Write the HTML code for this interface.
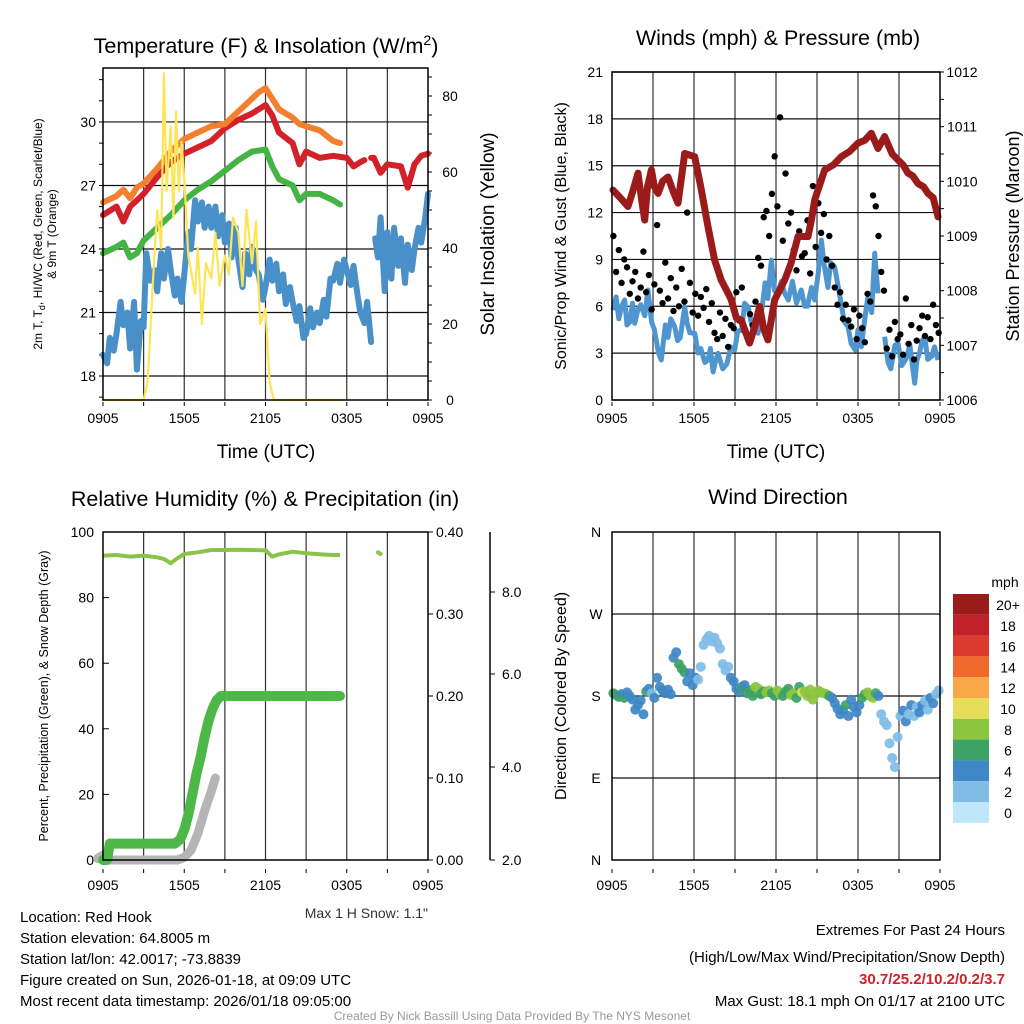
<!DOCTYPE html>
<html><head><meta charset="utf-8"><style>
html,body{margin:0;padding:0;background:#fff;}
svg{display:block;font-family:"Liberation Sans",sans-serif;}
</style></head><body>
<svg id="chart" width="1024" height="1024" viewBox="0 0 1024 1024" xmlns="http://www.w3.org/2000/svg">
<g id="p1"></g>
<g id="p2"></g>
<g id="p3"></g>
<g id="p4"></g>
<g font-size="21.5" text-anchor="middle">
<text x="266" y="53">Temperature (F) &amp; Insolation (W/m<tspan dy="-8" font-size="14">2</tspan><tspan dy="8">)</tspan></text>
<text x="778" y="45">Winds (mph) &amp; Pressure (mb)</text>
<text x="265" y="506">Relative Humidity (%) &amp; Precipitation (in)</text>
<text x="778" y="504">Wind Direction</text>
</g>
<g font-size="15">
<text x="20" y="922">Location: Red Hook</text>
<text x="20" y="943">Station elevation: 64.8005 m</text>
<text x="20" y="964">Station lat/lon: 42.0017; -73.8839</text>
<text x="20" y="985">Figure created on Sun, 2026-01-18, at 09:09 UTC</text>
<text x="20" y="1006">Most recent data timestamp: 2026/01/18 09:05:00</text>
<g text-anchor="end">
<text x="1005" y="935">Extremes For Past 24 Hours</text>
<text x="1005" y="962">(High/Low/Max Wind/Precipitation/Snow Depth)</text>
<text x="1005" y="984" fill="#d42028" font-weight="bold">30.7/25.2/10.2/0.2/3.7</text>
<text x="1005" y="1006">Max Gust: 18.1 mph On 01/17 at 2100 UTC</text>
<text x="428" y="918" font-size="14" fill="#333">Max 1 H Snow: 1.1"</text>
</g>
<text x="512" y="1020" font-size="12" fill="#999" text-anchor="middle">Created By Nick Bassill Using Data Provided By The NYS Mesonet</text>
</g>
</svg>
<script>
// ---- Data ----
const xTickLabels = ["0905","1505","2105","0305","0905"];
const tempTimes = [0,1,1.5,2,2.5,3,4,5,6,7,8,9,10,11,11.5,12,12.5,13,14,14.5,15,16,17,17.5];
const orangeT = [26.2,26.5,26.8,26.4,26.9,27.1,27.8,28.6,29.2,29.5,29.8,29.9,30.5,31.1,31.4,31.6,31.1,30.6,30.2,29.9,29.8,29.6,29.1,29.0];
const redTimes = [0,1,1.5,2,2.5,3,4,5,6,7,8,9,10,11,12,12.5,13,14,14.5,15,16,17,18,18.5,19,19.3,null,19.8,20,20.5,21,22,22.5,23,23.5,24];
const redT = [25.6,26.0,25.3,26.0,26.3,26.6,27.4,28.1,28.5,28.8,29.1,29.7,30.1,30.4,30.8,30.3,29.5,29.0,28.0,28.6,28.3,28.4,28.3,27.9,28.1,28.2,null,28.3,28.3,27.6,28.0,27.9,26.9,28.0,28.4,28.5];
const greenTimes = [0,1,1.5,2,2.5,3,4,5,6,7,8,9,10,11,12,12.5,13,14,14.5,15,16,17,17.5];
const greenT = [23.8,24.1,24.3,23.6,23.8,24.4,25.0,25.6,26.3,26.8,27.2,27.7,28.2,28.6,28.7,27.9,27.3,27.0,26.3,26.6,26.6,26.3,26.1];
const blueTimes = [0,0.3,0.5,0.8,1,1.3,1.5,1.8,2,2.3,2.5,2.8,3,3.2,3.5,3.8,4,4.3,4.5,4.8,5,5.3,5.5,5.8,6,6.3,6.5,6.8,7,7.3,7.5,7.8,8,8.3,8.5,8.8,9,9.3,9.5,9.8,10,10.3,10.5,10.8,11,11.3,11.5,11.8,12,12.3,12.5,12.8,13,13.3,13.5,13.8,14,14.3,14.5,14.8,15,15.3,15.5,15.8,16,16.3,16.5,16.8,17,17.3,17.5,17.8,18,18.3,18.5,18.8,19,19.3,19.5,19.8,null,20.1,20.3,20.5,20.8,21,21.3,21.5,21.8,22,22.3,22.5,22.8,23,23.3,23.5,23.8,24];
const blueT = [19.0,18.6,19.8,19.2,20.0,21.5,20.4,21.0,19.3,21.5,18.3,20.6,20.3,23.8,22.5,23.0,22.0,23.8,22.6,24.0,23.0,21.8,22.6,21.5,22.8,24.8,24.0,26.3,25.3,26.2,25.0,26.0,25.0,26.0,24.6,25.6,24.3,25.2,23.6,25.0,23.5,22.2,23.8,22.8,24.1,23.0,22.8,21.6,22.2,23.5,22.5,23.3,22.0,22.8,21.4,22.2,21.5,20.6,21.3,19.8,20.0,21.2,20.3,21.0,20.5,21.6,20.8,22.6,22.5,23.3,22.4,23.5,23.0,22.3,23.2,21.8,21.0,20.5,21.5,19.6,null,24.5,23.6,25.5,22.0,24.8,22.6,25.0,23.2,24.5,22.4,24.2,23.0,24.0,25.0,24.3,25.5,26.6];
const solarTimes = [0,3,3.3,3.7,4,4.3,4.5,4.7,5,5.2,5.4,5.6,5.8,6,6.3,6.5,6.8,7,7.3,7.6,8,8.3,8.6,9,9.3,9.6,10,10.3,10.6,11,11.3,11.6,12,12.3,12.6,17.8];
const solarV = [0,0,5,32,50,40,86,55,72,48,76,55,68,58,38,34,28,40,20,36,32,44,30,38,33,48,44,30,50,36,47,20,24,5,0,0];
const presTimes = [0.07,0.6,1.17,1.5,1.9,2.2,2.39,2.6,2.88,3.1,3.37,3.7,4.1,4.5,4.83,5.32,6.05,6.54,7.0,7.51,8.0,8.4,8.73,9.1,9.46,10.07,10.4,10.8,11.1,11.41,11.9,12.63,13.1,13.61,14.34,14.6,14.83,15.56,16.2,16.78,17.4,18.0,18.5,18.97,19.46,19.95,20.5,20.93,21.3,21.66,22.0,22.39,22.8,23.12,23.5,23.85];
const presV = [1009.84,1009.7,1009.54,1009.8,1010.15,1009.6,1009.29,1009.9,1010.21,1009.9,1009.78,1010.0,1010.08,1009.8,1009.6,1010.51,1010.45,1009.84,1009.2,1008.56,1008.19,1008.0,1007.83,1007.5,1007.46,1007.04,1007.3,1007.71,1007.3,1007.1,1007.83,1008.19,1008.5,1008.99,1008.99,1009.3,1009.66,1010.21,1010.3,1010.45,1010.55,1010.7,1010.75,1010.88,1010.6,1010.82,1010.5,1010.39,1010.3,1010.15,1010.1,1009.96,1009.9,1009.78,1009.7,1009.35];
const windTimes = [0.07,0.3,0.5,0.7,0.93,1.1,1.3,1.5,1.66,1.9,2.1,2.4,2.63,2.9,3.1,3.4,3.61,3.9,4.1,4.3,4.59,4.8,5.0,5.32,5.5,5.7,6.05,6.3,6.5,6.8,7.02,7.2,7.4,7.6,7.76,8.1,8.4,8.7,8.98,9.2,9.5,9.7,9.95,10.3,10.5,10.68,11.0,11.2,11.4,11.66,11.9,12.1,12.4,12.63,12.9,13.2,13.5,13.85,14.1,14.3,14.6,14.83,15.1,15.32,15.5,15.8,16.0,16.29,16.6,16.8,17.0,17.27,17.5,17.8,18.0,18.24,18.5,18.7,19.0,19.22,19.46,null,19.95,20.2,20.4,20.7,20.93,21.2,21.5,21.8,22.15,22.3,22.5,22.7,22.88,23.1,23.4,23.6,23.85];
const windV = [5.76,6.6,5.2,6.0,6.4,4.8,5.0,6.2,4.91,5.8,6.1,5.4,7.04,5.0,4.5,3.0,2.56,4.8,4.0,5.2,4.69,3.8,4.0,5.97,4.9,4.3,4.27,3.0,3.3,2.4,2.56,3.3,1.8,2.6,2.99,2.0,2.3,3.4,3.2,4.4,4.5,6.2,5.97,4.5,4.6,4.27,6.0,7.5,6.5,8.96,7.0,6.8,7.6,6.83,6.4,7.6,6.2,7.04,6.0,6.0,7.2,6.4,8.2,10.24,8.8,7.2,8.8,8.53,7.0,6.0,5.0,4.69,3.6,3.2,4.5,3.41,5.2,6.5,5.6,9.39,6.83,null,4.05,2.4,2.0,3.5,3.63,2.2,2.6,3.5,1.07,2.5,3.0,3.8,4.05,2.6,2.8,3.4,2.56];
const gustV = [10.5,8.2,9.6,7.5,9.0, 8.5,6.8,7.6,8.2,6.5, 7.2,9.5,6.9,8.0,5.8, 7.4,11.2,7.0,6.2,8.8, 6.5,7.8,5.7,7.2,6.0, 8.4,6.3,12.0,7.5,5.6, 6.8,5.4,6.6,5.9,7.1, 5.0,6.2,4.3,3.9,5.6, 4.1,5.2,3.4,4.8,4.6, 6.9,5.1,7.2,4.4,4.0, 5.5,4.8,6.3,9.1,8.6, 11.7,12.1,10.5,13.2,15.6, 12.4,18.1,10.2,14.5,11.3, 12.0,9.6,8.3,10.8,9.2, 9.4,11.5,8.1,13.7,9.8, 12.6,10.7,11.9,9.0,10.5, 8.6,7.2,6.1,6.9,5.2, 6.1,5.1,4.7,5.8,3.9, 5.4,4.6,3.7,6.8,6.3, 13.1,12.4,10.5,8.2,7.0, 3.3,4.5,2.8,5.0,3.9, 4.2,2.9,6.5,3.6,4.8, 2.6,3.8,4.6,5.4,4.1, 5.3,3.9,6.1,4.8,4.3];
const rhTimes = [0,1,2,3,4,4.5,5,5.5,6,7,8,9,10,11,12,12.5,13,14,15,16,17,17.5];
const rhV = [92.8,93.0,92.5,92.8,92.3,91.8,90.5,92.0,93.3,93.8,94.5,94.5,94.6,94.5,94.4,92.5,93.2,94.0,93.5,93.2,93.0,93.0];
const precipTimes = [0,0.3,0.5,5.3,5.7,6.0,6.3,6.6,6.9,7.2,7.5,7.8,8.1,8.4,8.7,9.0,17.5];
const precipV = [0.0,0.0,0.02,0.02,0.025,0.037,0.055,0.08,0.105,0.125,0.15,0.17,0.185,0.195,0.2,0.2,0.2];
const snowTimes = [-0.4,0,0.3,5.5,6.0,6.5,7.0,7.5,8.0,8.3];
const snowV = [0.5,1.5,0,0,0.8,3,8,15,21,25];
const dirV = [183,181,179,182,178,184,180,176,165,170, 175,160,185,188,183,178,200,190,186,183, 187,182,222,228,215,210,206,196,205,192, 200,198,212,236,242,246,240,244,238,232, 215,208,212,200,196,188,184,190,192,183, 186,180,190,188,182,185,184,186,183,180, 186,182,180,185,188,181,183,178,190,184, 185,180,187,176,182,186,184,183,182,180, 178,172,166,160,164,170,158,176,168,162, 170,178,182,184,180,178,183,180,160,152, 148,128,112,102,135,158,164,152,160,170, 158,168,162,170,175,165,178,172,182,186];
const spdV = [6,6,7,5,6,4,5,4,4,5, 4,4,7,5,2,4,4,4,4,5, 4,4,4,5,7,7,6,4,4,4, 4,3,3,2,2,2,2,2,2,3, 2,2,3,4,4,5,4,6,4,6, 6,7,8,8,7,6,9,8,7,6, 8,8,7,6,7,9,8,6,7,10, 9,8,8,9,9,8,8,9,8,6, 5,4,5,4,5,6,5,4,4,5, 4,6,7,8,8,9,6,4,3,3, 2,3,3,2,2,3,4,5,3,4, 3,3,4,5,3,3,4,4,3,3];
const speedLabels = ["20+","18","16","14","12","10","8","6","4","2","0"];
const speedColors = ["#9b1b1b","#c0202a","#dc3a2c","#ef6a2c","#f8a848","#e6de58","#8cc63f","#3da266","#3f87c6","#7fbde6","#bfe6fa"];

// ---- helpers ----
const NS="http://www.w3.org/2000/svg";
function mk(parent,tag,attrs,text){const e=document.createElementNS(NS,tag);for(const k in attrs)e.setAttribute(k,attrs[k]);if(text!==undefined)e.textContent=text;parent.appendChild(e);return e;}
function pathD(ts,vs,xf,yf){let d="",pen=false;for(let i=0;i<ts.length;i++){if(ts[i]===null||vs[i]===null){pen=false;continue;}d+=(pen?"L":"M")+xf(ts[i]).toFixed(1)+","+yf(vs[i]).toFixed(1);pen=true;}return d;}
function frame(g,x0,x1,y0,y1){
  mk(g,"rect",{x:x0,y:y0,width:x1-x0,height:y1-y0,fill:"none",stroke:"#000","stroke-width":1.5});
}
function vgrid(g,xf,y0,y1){for(let h=3;h<24;h+=3){const l=mk(g,"line",{x1:xf(h),x2:xf(h),y1:y0,y2:y1,stroke:"#333","stroke-width":1.2});}}
function xticks(g,xf,y){for(let i=0;i<5;i++){const t=mk(g,"text",{x:xf(i*6),y:y,"font-size":14,"text-anchor":"middle"},xTickLabels[i]);}
  for(let h=0;h<=24;h+=3){mk(g,"line",{x1:xf(h),x2:xf(h),y1:y-21,y2:y-17,stroke:"#000"});}}

// ---- Panel 1 ----
(function(){
 const g=document.getElementById("p1");
 const X0=103,X1=428,Y0=68,Y1=400;
 const x=t=>X0+t/24*(X1-X0);
 const y=v=>376-(v-18)*21.17;
 const ys=v=>400-v*3.8;
 vgrid(g,x,Y0,Y1);
 [18,21,24,27,30].forEach(v=>{mk(g,"line",{x1:X0,x2:X1,y1:y(v),y2:y(v),stroke:"#111","stroke-width":1.2});const t=mk(g,"text",{x:X0-7,y:y(v)+5,"font-size":14,"text-anchor":"end"},v);});
 for(let v=17;v<=32;v++)mk(g,"line",{x1:X0,x2:X0-4,y1:y(v),y2:y(v),stroke:"#000"});
 for(let v=0;v<=85;v+=5)mk(g,"line",{x1:X1,x2:X1+4,y1:ys(v),y2:ys(v),stroke:"#000"});
 [0,20,40,60,80].forEach(v=>{const t=mk(g,"text",{x:X1+22,y:ys(v)+5,"font-size":14,"text-anchor":"middle"},v);});
 const series=[[blueTimes,blueT,"#4a90c8",6,'blue-dewpoint-line',y],[greenTimes,greenT,"#45b345",6,'green-temp-line',y],[redTimes,redT,"#d42028",6,'red-temp-line',y],[tempTimes,orangeT,"#f47f2f",6,'orange-9m-temp-line',y],[solarTimes,solarV,"#fde557",2.2,'solar-insolation-line',ys]];
 series.forEach(s=>{const p=mk(g,"path",{d:pathD(s[0],s[1],x,s[5]),fill:"none",stroke:s[2],"stroke-width":s[3],"stroke-linejoin":"round","stroke-linecap":"round"});});
 frame(g,X0,X1,Y0,Y1);
 xticks(g,x,423);
 mk(g,"text",{x:266,y:458,"font-size":19,"text-anchor":"middle",},"Time (UTC)");
 const lt=mk(g,"text",{transform:"translate(42,234) rotate(-90)","font-size":12,"text-anchor":"middle",});
 lt.innerHTML='2m T, T<tspan dy="3" font-size="9">d</tspan><tspan dy="-3">, HI/WC (Red, Green, Scarlet/Blue)</tspan>';
 mk(g,"text",{transform:"translate(56,234) rotate(-90)","font-size":12,"text-anchor":"middle",},"& 9m T (Orange)");
 mk(g,"text",{transform:"translate(494,234) rotate(-90)","font-size":19,"text-anchor":"middle",},"Solar Insolation (Yellow)");
})();

// ---- Panel 2 ----
(function(){
 const g=document.getElementById("p2");
 const X0=612,X1=940,Y0=72,Y1=400;
 const x=t=>X0+t/24*(X1-X0);
 const y=v=>Y1-v*(Y1-Y0)/21;
 const yp=p=>Y1-(p-1006)*(Y1-Y0)/6;
 vgrid(g,x,Y0,Y1);
 for(let v=0;v<=21;v+=3){mk(g,"line",{x1:X0,x2:X1,y1:y(v),y2:y(v),stroke:"#111","stroke-width":1.2});const t=mk(g,"text",{x:X0-9,y:y(v)+5,"font-size":14,"text-anchor":"end"},v);}
 for(let p=1006;p<=1012;p++){const t=mk(g,"text",{x:X1+22,y:yp(p)+5,"font-size":14,"text-anchor":"middle"},p);}
 for(let p=1006;p<=1012;p+=0.5)mk(g,"line",{x1:X1,x2:X1+4,y1:yp(p),y2:yp(p),stroke:"#000"});
 const wl=mk(g,"path",{d:pathD(windTimes,windV,x,y),fill:"none",stroke:"#4f96d0","stroke-width":5,"stroke-linejoin":"round"});
 
 gustV.forEach((v,i)=>{const c=mk(g,"circle",{cx:x(i*0.2+0.1),cy:y(v),r:3.2,fill:"#000"});});
 const pl=mk(g,"path",{d:pathD(presTimes,presV,x,yp),fill:"none",stroke:"#9b1b1b","stroke-width":7,"stroke-linejoin":"round","stroke-linecap":"round"});
 
 frame(g,X0,X1,Y0,Y1);
 xticks(g,x,423);
 mk(g,"text",{x:776,y:458,"font-size":19,"text-anchor":"middle",},"Time (UTC)");
 mk(g,"text",{transform:"translate(566,236) rotate(-90)","font-size":16,"text-anchor":"middle",},"Sonic/Prop Wind & Gust (Blue, Black)");
 mk(g,"text",{transform:"translate(1019,236) rotate(-90)","font-size":18,"text-anchor":"middle",},"Station Pressure (Maroon)");
})();

// ---- Panel 3 ----
(function(){
 const g=document.getElementById("p3");
 const X0=103,X1=428,Y0=532,Y1=860;
 const x=t=>X0+t/24*(X1-X0);
 const y=v=>Y1-v*(Y1-Y0)/100;
 const ypr=v=>Y1-v*(Y1-Y0)/0.4;
 vgrid(g,x,Y0,Y1);
 for(let v=0;v<=100;v+=20){const t=mk(g,"text",{x:X0-9,y:y(v)+5,"font-size":14,"text-anchor":"end"},v);mk(g,"line",{x1:X0,x2:X0+6,y1:y(v),y2:y(v),stroke:"#000"});}
 for(let v=0;v<=0.4001;v+=0.1){const t=mk(g,"text",{x:X1+8,y:ypr(v)+5,"font-size":14},v.toFixed(2));mk(g,"line",{x1:X1,x2:X1+5,y1:ypr(v),y2:ypr(v),stroke:"#000"});}
 mk(g,"line",{x1:490,x2:490,y1:Y0,y2:Y1,stroke:"#000","stroke-width":1.5});
 const snowLbl=["2.0","4.0","6.0","8.0"],snowY=[860,767,674,592];
 snowLbl.forEach((s,i)=>{const t=mk(g,"text",{x:502,y:snowY[i]+5,"font-size":14},s);mk(g,"line",{x1:490,x2:495,y1:snowY[i],y2:snowY[i],stroke:"#000"});});
 const sl=mk(g,"path",{d:pathD(snowTimes,snowV,x,y),fill:"none",stroke:"#b5b5b5","stroke-width":9,"stroke-linecap":"round","stroke-linejoin":"round"});
 
 const pr=mk(g,"path",{d:pathD(precipTimes,precipV,x,ypr),fill:"none",stroke:"#4db848","stroke-width":10,"stroke-linecap":"round","stroke-linejoin":"round"});
 
 const rh=mk(g,"path",{d:pathD(rhTimes,rhV,x,y),fill:"none",stroke:"#8bc34a","stroke-width":4,"stroke-linejoin":"round"});
 
 const rb=mk(g,"path",{d:pathD([20.3,20.5],[93.8,93.3],x,y),fill:"none",stroke:"#8bc34a","stroke-width":4,"stroke-linecap":"round"});
 
 frame(g,X0,X1,Y0,Y1);
 xticks(g,x,890);
 mk(g,"text",{transform:"translate(48,696) rotate(-90)","font-size":12.5,"text-anchor":"middle",},"Percent, Precipitation (Green), & Snow Depth (Gray)");
})();

// ---- Panel 4 ----
(function(){
 const g=document.getElementById("p4");
 const X0=612,X1=940,Y0=532,Y1=860;
 const x=t=>X0+t/24*(X1-X0);
 const y=d=>Y1-d*(Y1-Y0)/360;
 vgrid(g,x,Y0,Y1);
 const dl=["N","E","S","W","N"];
 for(let i=0;i<5;i++){const d=i*90;if(i>0&&i<4)mk(g,"line",{x1:X0,x2:X1,y1:y(d),y2:y(d),stroke:"#111","stroke-width":1.2});const t=mk(g,"text",{x:X0-16,y:y(d)+5,"font-size":14,"text-anchor":"middle"},dl[i]);}
 dirV.forEach((d,i)=>{const b=Math.min(10,Math.floor(spdV[i]/2));const c=mk(g,"circle",{cx:x(i*0.2+0.1),cy:y(d),r:5,fill:speedColors[10-b],"fill-opacity":0.92});});
 frame(g,X0,X1,Y0,Y1);
 xticks(g,x,890);
 mk(g,"text",{transform:"translate(566,696) rotate(-90)","font-size":16,"text-anchor":"middle",},"Direction (Colored By Speed)");
 const lg=mk(g,"g",{});
 mk(lg,"text",{x:1005,y:587,"font-size":14,"text-anchor":"middle"},"mph");
 speedLabels.forEach((s,i)=>{const r=mk(lg,"rect",{x:953,y:594+i*20.8,width:36,height:20.8,fill:speedColors[i]});const t=mk(lg,"text",{x:1008,y:594+i*20.8+16,"font-size":14,"text-anchor":"middle"},s);});
})();
</script>
</body></html>
